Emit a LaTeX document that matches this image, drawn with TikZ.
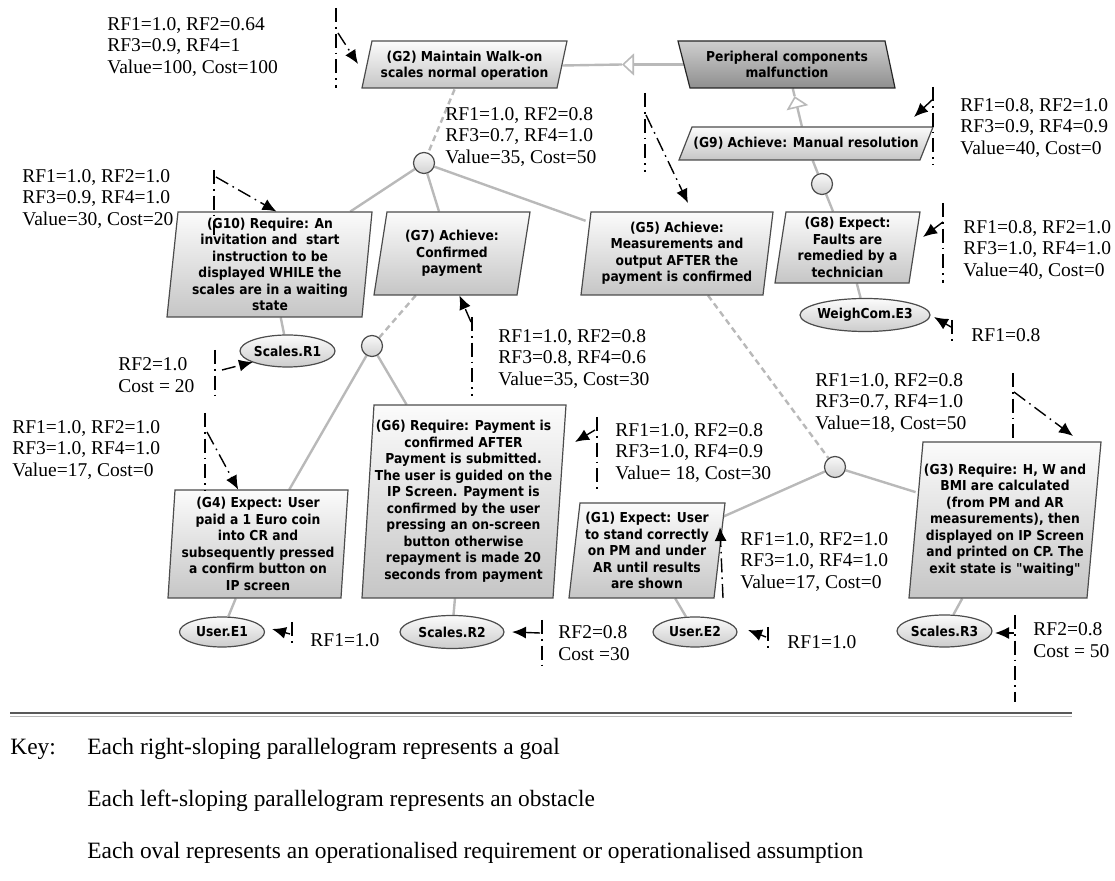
\documentclass[tikz,border=0pt]{standalone}
\usepackage{fontspec}
\setmainfont{Liberation Serif}
\newfontfamily\goalfont{DejaVu Sans}[FakeStretch=0.9]
\usetikzlibrary{shapes.geometric, backgrounds, arrows.meta, calc}

\tikzset{
	refline/.style={gray!55, line width=1.2pt},
	refdash/.style={refline, dash pattern=on 3pt off 2pt},
	annline/.style={black, line width=0.7pt, dash pattern=on 7pt off 2.5pt on 0.8pt off 2.5pt},
	annarrow/.style={annline, -{Latex[length=7pt,width=6pt]}},
	goal/.style={draw=gray!60!black, line width=0.6pt, top color=gray!3, bottom color=gray!45},
	obstacle/.style={draw=gray!30!black, line width=0.6pt, top color=gray!38, bottom color=gray!88},
	gtext/.style={font=\goalfont\bfseries\fontsize{6.85}{8.25}\selectfont, align=center, inner sep=0pt},
	oval/.style={ellipse, draw=gray!60!black, line width=0.6pt, top color=gray!3, bottom color=gray!40, gtext, inner xsep=-3pt},
	andnode/.style={circle, minimum size=10.5pt, inner sep=0pt, draw=gray!60!black, line width=0.6pt, top color=gray!5, bottom color=gray!35},
	ann/.style={font=\fontsize{9.75}{10.75}\selectfont, align=left, anchor=west, inner sep=0pt},
	keytext/.style={font=\fontsize{11.7}{13}\selectfont, anchor=west, inner sep=0pt}
}

\begin{document}
\begin{tikzpicture}[x=0.5pt, y=-0.5pt]
			\useasboundingbox (0,0) rectangle (1115,881);
			
			% Goals and obstacle (top)
			\shade[goal] (362,88) -- (372,41) -- (567,41) -- (557,88) -- cycle;
			\node[gtext, minimum width=97.5pt, minimum height=23.5pt] (g2) at (464.5,65.5) {(G2) Maintain Walk-on\\scales normal operation};
			\shade[obstacle] (678,41) -- (885,41) -- (895,88) -- (690,88) -- cycle;
			\node[gtext, minimum width=103pt, minimum height=23.5pt] (pc) at (787,64.5) {Peripheral components\\malfunction};
			\shade[goal] (679,160) -- (692,127) -- (933,127) -- (920,160) -- cycle;
			\node[gtext, minimum width=120.5pt, minimum height=16.5pt] (g9) at (806,143.5) {(G9) Achieve: Manual resolution};
			
			% Goals (middle)
			\shade[goal] (167,317) -- (178,212) -- (372,212) -- (362,317) -- cycle;
			\node[gtext, minimum width=97pt, minimum height=52.5pt] (g10) at (270,264.5) {(G10) Require: An\\invitation and\ \ start\\instruction to be\\displayed WHILE the\\scales are in a waiting\\state};
			\shade[goal] (374,295) -- (387,212) -- (530,212) -- (517,295) -- cycle;
			\node[gtext, minimum width=71.5pt, minimum height=41.5pt] (g7) at (452,253.5) {(G7) Achieve:\\Confirmed\\payment};
			\shade[goal] (581,295) -- (591,212) -- (773,212) -- (763,295) -- cycle;
			\node[gtext, minimum width=91pt, minimum height=41.5pt] (g5) at (677,253.5) {(G5) Achieve:\\Measurements and\\output AFTER the\\payment is confirmed};
			\shade[goal] (775,283) -- (786,212) -- (920,212) -- (909,283) -- cycle;
			\node[gtext, minimum width=67pt, minimum height=35.5pt] (g8) at (847.5,247.5) {(G8) Expect:\\Faults are\\remedied by a\\technician};
			
			% Goals (bottom)
			\shade[goal] (168,598) -- (175,490) -- (348,490) -- (341,598) -- cycle;
			\node[gtext, minimum width=86.5pt, minimum height=54pt] (g4) at (258,544) {(G4) Expect: User\\paid a 1 Euro coin\\into CR and\\subsequently pressed\\a confirm button on\\IP screen};
			\shade[goal] (362,598) -- (374,405) -- (566,405) -- (553,598) -- cycle;
			\node[gtext, minimum width=96pt, minimum height=96.5pt] (g6) at (463.5,501.5) {(G6) Require: Payment is\\confirmed AFTER\\Payment is submitted.\\The user is guided on the\\IP Screen. Payment is\\confirmed by the user\\pressing an on-screen\\button otherwise\\repayment is made 20\\seconds from payment};
			\shade[goal] (569,598) -- (580,503) -- (725,503) -- (714,598) -- cycle;
			\node[gtext, minimum width=72.5pt, minimum height=47.5pt] (g1) at (647,550.5) {(G1) Expect: User\\to stand correctly\\on PM and under\\AR until results\\are shown};
			\shade[goal] (909,598) -- (923,442) -- (1101,442) -- (1087,598) -- cycle;
			\node[gtext, minimum width=89pt, minimum height=78pt] (g3) at (1005,520) {(G3) Require: H, W and\\BMI are calculated\\(from PM and AR\\measurements), then\\displayed on IP Screen\\and printed on CP. The\\exit state is "waiting"};
			
			% Requirements and expectations
			\node[oval, minimum width=47.5pt, minimum height=16pt] (r1) at (287.5,351) {Scales.R1};
			\node[oval, minimum width=42.5pt, minimum height=15pt] (e1) at (222,632) {User.E1};
			\node[oval, minimum width=52pt, minimum height=16.5pt] (r2) at (452,632) {Scales.R2};
			\node[oval, minimum width=42pt, minimum height=15pt] (e2) at (695,632) {User.E2};
			\node[oval, minimum width=47.5pt, minimum height=16pt] (r3) at (944.5,631) {Scales.R3};
			\node[oval, minimum width=65pt, minimum height=16.5pt] (e3) at (865,315) {WeighCom.E3};
			
			% Refinement nodes
			\node[andnode] (c1) at (424,163) {};
			\node[andnode] (c2) at (822,184) {};
			\node[andnode] (c3) at (372,346) {};
			\node[andnode] (c4) at (835,467) {};
			
			% Refinement links
			\begin{scope}[on background layer]
			\coordinate (tri1) at (622,64.5);
			\draw[refline, -{Triangle[open, length=6pt, width=11pt, line width=0.8pt]}] (pc.west) -- (tri1);
			\draw[refline] (tri1) -- (g2.east);
			\coordinate (tri2) at ($(pc)!0.4!(g9)$);
			\draw[refline, -{Triangle[open, length=6pt, width=11pt, line width=0.8pt]}] (g9) -- (tri2);
			\draw[refline] (tri2) -- (pc);
			\draw[refdash] (g2) -- (c1);
			\draw[refline] (c1) -- (g10);
			\draw[refline] (c1) -- (g7);
			\draw[refline] (c1) -- (g5);
			\draw[refline] (g9) -- (c2);
			\draw[refline] (c2) -- (g8);
			\draw[refline] (g8) -- (e3);
			\draw[refline] (g10) -- (r1);
			\draw[refdash] (g7) -- (c3);
			\draw[refline] (c3) -- (g4);
			\draw[refline] (c3) -- (g6);
			\draw[refline] (g4) -- (e1);
			\draw[refline] (g6) -- (r2);
			\draw[refdash] (g5) -- (c4);
			\draw[refline] (c4) -- (g1);
			\draw[refline] (c4) -- (g3);
			\draw[refline] (g1) -- (e2);
			\draw[refline] (g3) -- (r3);
			\end{scope}
			
			% Annotations
			\node[ann] (a2) at (107,47) {RF1=1.0, RF2=0.64\\RF3=0.9, RF4=1\\Value=100, Cost=100};
			\node[ann] (ac1) at (445,137) {RF1=1.0, RF2=0.8\\RF3=0.7, RF4=1.0\\Value=35, Cost=50};
			\node[ann] (a9) at (960,128) {RF1=0.8, RF2=1.0\\RF3=0.9, RF4=0.9\\Value=40, Cost=0};
			\node[ann] (a10) at (22,199) {RF1=1.0, RF2=1.0\\RF3=0.9, RF4=1.0\\Value=30, Cost=20};
			\node[ann] (a8) at (963,250) {RF1=0.8, RF2=1.0\\RF3=1.0, RF4=1.0\\Value=40, Cost=0};
			\node[ann] (ae3) at (971,335) {RF1=0.8};
			\node[ann] (ar1) at (118,375) {RF2=1.0\\Cost = 20};
			\node[ann] (a7) at (498,359) {RF1=1.0, RF2=0.8\\RF3=0.8, RF4=0.6\\Value=35, Cost=30};
			\node[ann] (ac4) at (815,403) {RF1=1.0, RF2=0.8\\RF3=0.7, RF4=1.0\\Value=18, Cost=50};
			\node[ann] (a4) at (12,450) {RF1=1.0, RF2=1.0\\RF3=1.0, RF4=1.0\\Value=17, Cost=0};
			\node[ann] (a6) at (615,453) {RF1=1.0, RF2=0.8\\RF3=1.0, RF4=0.9\\Value= 18, Cost=30};
			\node[ann] (a1) at (740,562) {RF1=1.0, RF2=1.0\\RF3=1.0, RF4=1.0\\Value=17, Cost=0};
			\node[ann] (ae1) at (310,640) {RF1=1.0};
			\node[ann] (ar2) at (558,643) {RF2=0.8\\Cost =30};
			\node[ann] (ae2) at (787,642) {RF1=1.0};
			\node[ann] (ar3) at (1033,640) {RF2=0.8\\Cost = 50};
			
			% Annotation markers
			\coordinate (v2top) at (336,8); \coordinate (v2bot) at (336,88); \coordinate (v2) at (338,33); \coordinate (t2) at (358,64);
			\draw[annline] (v2top) -- (v2bot);
			\draw[annarrow] (v2) -- (t2);
			\coordinate (v10top) at (214,170); \coordinate (v10bot) at (214,240); \coordinate (v10) at (216,177);
			\draw[annline] (v10top) -- (v10bot);
			\draw[annarrow] (v10) -- (g10.83);
			\coordinate (v9top) at (933,87); \coordinate (v9bot) at (933,165); \coordinate (v9) at (932,100); \coordinate (t9) at (914,117);
			\draw[annline] (v9top) -- (v9bot);
			\draw[annarrow] (v9) -- (t9);
			\coordinate (v5top) at (645,93); \coordinate (v5bot) at (645,172); \coordinate (v5) at (646,115); \coordinate (t5) at (688,203);
			\draw[annline] (v5top) -- (v5bot);
			\draw[annarrow] (v5) -- (t5);
			\coordinate (v8top) at (943,203); \coordinate (v8bot) at (943,283); \coordinate (v8) at (943,222); \coordinate (t8) at (923,237);
			\draw[annline] (v8top) -- (v8bot);
			\draw[annarrow] (v8) -- (t8);
			\coordinate (ve3top) at (952,320); \coordinate (ve3bot) at (952,342); \coordinate (ve3) at (951,327); \coordinate (te3) at (934,317);
			\draw[annline] (ve3top) -- (ve3bot);
			\draw[annarrow] (ve3) -- (te3);
			\coordinate (vr1top) at (215,350); \coordinate (vr1bot) at (215,397); \coordinate (vr1) at (222,370); \coordinate (tr1) at (253,362);
			\draw[annline] (vr1top) -- (vr1bot);
			\draw[annarrow] (vr1) -- (tr1);
			\coordinate (v7top) at (472,317); \coordinate (v7bot) at (472,396); \coordinate (v7) at (471,322);
			\draw[annline] (v7top) -- (v7bot);
			\draw[annarrow] (v7) -- (g7.-80);
			\coordinate (v4top) at (205,413); \coordinate (v4bot) at (205,490); \coordinate (v4) at (207,432);
			\draw[annline] (v4top) -- (v4bot);
			\draw[annarrow] (v4) -- (g4.110);
			\coordinate (v6top) at (597,417); \coordinate (v6bot) at (597,490); \coordinate (v6) at (595,430); \coordinate (t6) at (575,442);
			\draw[annline] (v6top) -- (v6bot);
			\draw[annarrow] (v6) -- (t6);
			\coordinate (v1bot) at (723,598); \coordinate (t1) at (720,527);
			\draw[annarrow] (v1bot) -- (t1);
			\coordinate (ve1top) at (292,622); \coordinate (ve1bot) at (292,645); \coordinate (ve1) at (290,634); \coordinate (te1) at (272,629);
			\draw[annline] (ve1top) -- (ve1bot);
			\draw[annarrow] (ve1) -- (te1);
			\coordinate (vr2top) at (542,620); \coordinate (vr2bot) at (542,665); \coordinate (vr2) at (540,633); \coordinate (tr2) at (512,632);
			\draw[annline] (vr2top) -- (vr2bot);
			\draw[annarrow] (vr2) -- (tr2);
			\coordinate (ve2top) at (768,627); \coordinate (ve2bot) at (768,648); \coordinate (ve2) at (766,637); \coordinate (te2) at (748,630);
			\draw[annline] (ve2top) -- (ve2bot);
			\draw[annarrow] (ve2) -- (te2);
			\coordinate (vr3top) at (1015,615); \coordinate (vr3bot) at (1015,702); \coordinate (vr3) at (1014,633); \coordinate (tr3) at (995,633);
			\draw[annline] (vr3top) -- (vr3bot);
			\draw[annarrow] (vr3) -- (tr3);
			\coordinate (v3top) at (1013,373); \coordinate (v3bot) at (1013,440); \coordinate (v3) at (1014,392); \coordinate (t3) at (1073,436);
			\draw[annline] (v3top) -- (v3bot);
			\draw[annarrow] (v3) -- (t3);
			
			% Key
			\draw[gray!70!black, line width=1pt] (10,713) -- (1072,713);
			\draw[gray!55, line width=0.8pt] (10,716.5) -- (1072,716.5);
			\node[keytext] (key) at (10,749) {Key:};
			\node[keytext] (k1) at (87,749) {Each right-sloping parallelogram represents a goal};
			\node[keytext] (k2) at (87,801) {Each left-sloping parallelogram represents an obstacle};
			\node[keytext] (k3) at (87,853) {Each oval represents an operationalised requirement or operationalised assumption};
			
		\end{tikzpicture}
\end{document}
